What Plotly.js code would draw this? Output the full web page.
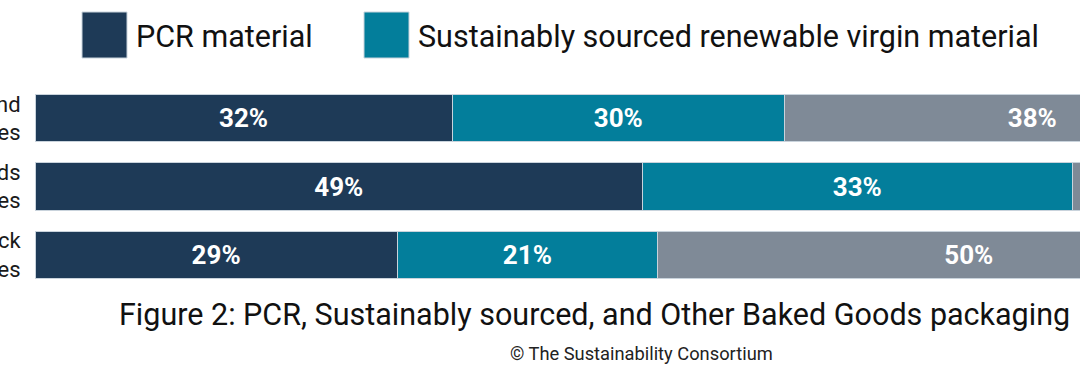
<!DOCTYPE html>
<html>
<head>
<meta charset="utf-8">
<script src="https://cdn.plot.ly/plotly-3.0.1.min.js"></script>
<style>
html,body{margin:0;padding:0;background:#fff;overflow:hidden;width:1080px;height:372px;}
#chart{width:1280px;height:372px;}
</style>
</head>
<body>
<div id="chart"></div>
<script>
// ---- data ----
const categories = ["cat1", "cat2", "cat3"];
const tickLabels = ["nd<br>es", "ds<br>es", "ck<br>es"];
const seriesNames = ["PCR material", "Sustainably sourced renewable virgin material", "Other"];
const pcrValues = [33.5, 48.8, 29.1];
const sustValues = [26.7, 34.5, 20.9];
const otherValues = [39.8, 16.6, 50.0];
const pcrLabels = ["32%", "49%", "29%"];
const sustLabels = ["30%", "33%", "21%"];
const otherLabels = ["38%", "18%", "50%"];
const titleText = "Figure 2: PCR, Sustainably sourced, and Other Baked Goods packaging";
const creditText = "© The Sustainability Consortium";

// ---- styles ----
const colors = ["#1e3a57", "#037e9b", "#7f8a97"];
const W = 1280, H = 372;
const M = {l: 35, r: 0, t: 84, b: 83};
const plotW = W - M.l - M.r, plotH = H - M.t - M.b;
const px = x => (x - M.l) / plotW;
const py = y => 1 - (y - M.t) / plotH;

function barTrace(name, vals, labels, color) {
  return {
    type: "bar", orientation: "h", name: name,
    y: categories, x: vals, text: labels,
    textposition: "inside", insidetextanchor: "middle",
    textfont: {family: "Roboto", size: 26, color: "#ffffff", weight: 700},
    marker: {color: color, line: {color: "#c9d3dc", width: 1}},
    hoverinfo: "none", showlegend: false
  };
}

const data = [
  barTrace(seriesNames[0], pcrValues, pcrLabels, colors[0]),
  barTrace(seriesNames[1], sustValues, sustLabels, colors[1]),
  barTrace(seriesNames[2], otherValues, otherLabels, colors[2])
];

const sq = 45;
const legendItems = [
  {x0: 82, text: seriesNames[0], tx: 134, color: colors[0]},
  {x0: 364, text: seriesNames[1], tx: 416, color: colors[1]}
];

const shapes = legendItems.map(it => ({
  type: "rect", xref: "paper", yref: "paper",
  x0: px(it.x0), x1: px(it.x0 + sq), y0: py(12), y1: py(12 + 46),
  fillcolor: it.color, line: {color: "#c9d3dc", width: 1}
}));

const annotations = legendItems.map(it => ({
  xref: "paper", yref: "paper", x: px(it.tx), y: py(36),
  xanchor: "left", yanchor: "middle", showarrow: false,
  text: it.text, font: {family: "Roboto", size: 30.5, color: "#111111"}
}));
annotations.push({
  xref: "paper", yref: "paper", x: px(594), y: py(314),
  xanchor: "center", yanchor: "middle", showarrow: false,
  text: titleText, font: {family: "Roboto", size: 30.5, color: "#111111"}
});
annotations.push({
  xref: "paper", yref: "paper", x: px(641), y: py(353),
  xanchor: "center", yanchor: "middle", showarrow: false,
  text: creditText, font: {family: "Roboto", size: 18.3, color: "#222222"}
});

const layout = {
  width: W, height: H,
  margin: M,
  paper_bgcolor: "#ffffff", plot_bgcolor: "#ffffff",
  barmode: "stack", bargap: 0.31,
  showlegend: false,
  xaxis: {range: [0, 100], visible: false, fixedrange: true},
  yaxis: {
    type: "category", autorange: false, range: [2.5, -0.5],
    tickmode: "array", tickvals: categories, ticktext: tickLabels,
    ticks: "outside", ticklen: 9, tickcolor: "rgba(0,0,0,0)",
    showline: false, showgrid: false, zeroline: false, automargin: false,
    tickfont: {family: "Roboto", size: 22, color: "#1a1a1a"}
  },
  shapes: shapes,
  annotations: annotations
};

Plotly.newPlot("chart", data, layout, {displayModeBar: false, staticPlot: true});
</script>
</body>
</html>
